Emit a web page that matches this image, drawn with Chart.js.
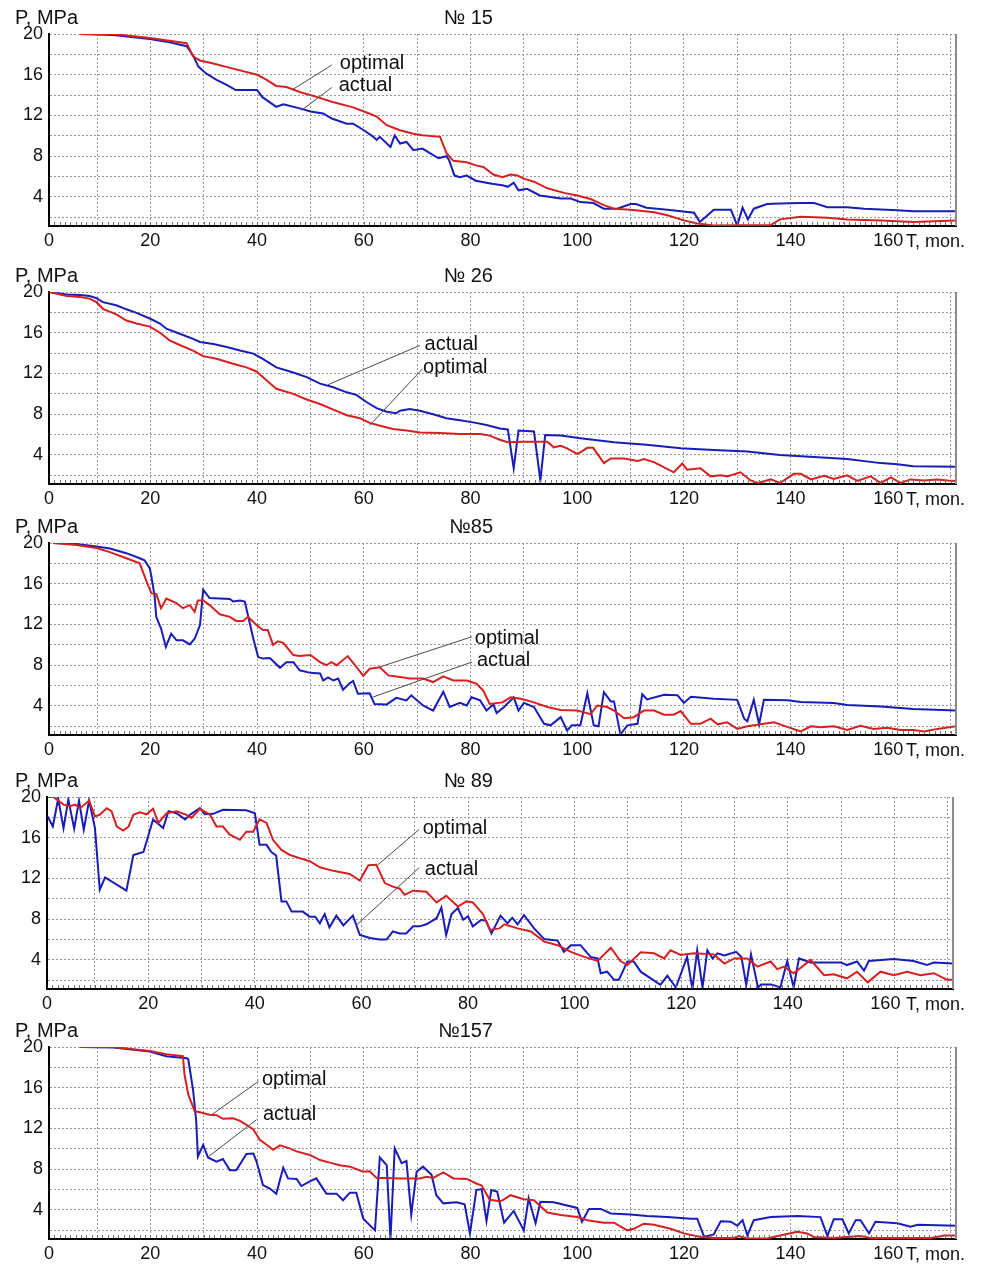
<!DOCTYPE html>
<html>
<head>
<meta charset="utf-8">
<script src="https://cdn.jsdelivr.net/npm/chart.js@4.4.0/dist/chart.umd.min.js"></script>
<style>
  html, body { margin: 0; padding: 0; background: #fff; width: 984px; height: 1264px; overflow: hidden;
    font-family: "Liberation Sans", Arial, sans-serif; color: #111; }
  .panel { position: absolute; left: 0; width: 984px; height: 253px; }
  .panel canvas { position: absolute; left: 0; top: 0; }
  .ylab { position: absolute; left: 15px; top: 6px; font-size: 20px; line-height: 22px; }
  .ttl  { position: absolute; right: 491px; top: 6px; font-size: 20px; line-height: 22px; }
  .tlab { position: absolute; left: 906px; top: 230px; font-size: 18px; line-height: 22px; }
</style>
</head>
<body>
<script>
// Well pressure P (MPa) vs time T (months): actual vs optimal
const FONT = '"Liberation Sans", Arial, sans-serif';
const RED  = 'rgb(214,32,32)';
const BLUE = 'rgb(26,28,184)';

// [month, MPa]
const actual15 = [[6.8,20],[13,19.9],[19.9,19.5],[23,19.25],[26.8,18.8],[28,17.9],[29,16.8],[30.5,16.1],[32.4,15.5],[34.3,15],[36,14.5],[40,14.5],[41,13.8],[43.6,12.85],[44.9,13.1],[48,12.7],[50,12.4],[52.4,12.2],[54,11.7],[56.8,11.2],[58,11.2],[60,10.55],[61.8,9.9],[62.4,9.6],[63,9.9],[65,8.9],[65.8,10.05],[66.8,9.25],[68,9.4],[69.3,8.6],[71,8.75],[72.4,8.3],[74,7.8],[75.5,8],[76,7.6],[77,6.1],[78,5.95],[79.3,6.1],[81,5.6],[84,5.3],[86,5.15],[87,5],[88.1,5.4],[89,4.65],[90.6,4.8],[93,4.15],[95,4],[96.9,3.85],[98.8,3.85],[100.6,3.5],[103,3.4],[105,2.85],[107.5,2.85],[110,3.3],[111,3.3],[113,2.95],[116.9,2.75],[121.9,2.45],[123,1.55],[125.6,2.75],[128.8,2.75],[130,1.2],[131,2.95],[132,1.8],[133.1,2.85],[135.6,3.3],[138,3.35],[141.9,3.4],[144.4,3.4],[146.9,3],[150.6,3],[153.8,2.85],[160,2.7],[163,2.6],[171,2.6]];
const optimal15 = [[6.8,20],[13,20],[19.9,19.6],[26.8,19.1],[28,17.8],[29.3,17.4],[31.8,17.1],[35.5,16.6],[40,16],[41.8,15.5],[43.6,14.9],[45.5,14.8],[48,14.3],[51,13.85],[54,13.35],[58,12.8],[61,12.2],[62.4,11.9],[64.3,11.05],[66.8,10.55],[69.3,10.2],[71,10.05],[74.3,9.9],[75.5,8.3],[76.8,7.55],[79.3,7.4],[81,7.1],[82.4,6.95],[84.3,6.2],[86,5.95],[87.5,6.2],[88.8,6.1],[90,5.8],[91.9,5.5],[94.4,4.85],[97.5,4.4],[100,4.15],[102.5,3.8],[105,3.2],[106.9,2.85],[110,2.75],[114.4,2.5],[116.9,2.2],[120,1.7],[122.5,1.4],[125.6,1.2],[136.3,1.25],[138,1.8],[141.9,2.05],[146.9,1.95],[150.6,1.8],[156.9,1.7],[163,1.55],[171,1.7]];

const actual26 = [[1,20],[4.3,19.75],[6.8,19.7],[8.6,19.6],[9.9,19.4],[11.1,19],[13.6,18.7],[15.5,18.3],[17.4,17.95],[19.9,17.4],[21.8,16.9],[23,16.4],[25.5,15.9],[28,15.4],[29.3,15.1],[31.8,14.9],[34.3,14.6],[36.8,14.25],[39.3,13.95],[41,13.45],[43.6,12.6],[46.8,12.1],[49.3,11.65],[51.8,11],[54.3,10.65],[56.8,10.15],[58.6,9.9],[60.5,9.2],[62.4,8.6],[64.3,8.25],[66.1,8.1],[66.8,8.35],[68.6,8.5],[70.5,8.35],[73,8],[75.5,7.6],[78,7.4],[80.5,7.2],[83,6.95],[85.5,6.6],[87,6.5],[88.1,2.7],[89,6.4],[91.9,6.3],[93.1,1.5],[94,5.95],[96.9,5.9],[100.6,5.65],[106.9,5.25],[113,5],[119.4,4.65],[125.6,4.5],[131.9,4.35],[138,4],[144.4,3.8],[150.6,3.6],[156.9,3.2],[160,3.1],[163,2.9],[171,2.85]];
const optimal26 = [[1,20],[4.3,19.6],[6.8,19.5],[8.6,19.35],[9.9,19],[11.1,18.35],[13.6,17.8],[15.5,17.2],[17.4,16.9],[19.9,16.6],[21.8,16],[23.6,15.25],[25.5,14.8],[28,14.25],[29.9,13.7],[32.4,13.45],[35.5,12.95],[38,12.6],[39.9,12.2],[41.8,11.3],[43.6,10.5],[46.8,10],[49.3,9.45],[51.8,9],[54.3,8.45],[56.8,7.9],[59.3,7.6],[61.1,7.15],[63.6,6.8],[65.5,6.55],[68,6.4],[70.5,6.2],[74.3,6.15],[78,6.05],[81.8,6.05],[83.6,5.9],[85.5,5.5],[87,5.25],[90,5.3],[94.4,5.3],[95.6,4.75],[96.9,4.9],[98.1,4.65],[100,4.1],[100.6,4.25],[101.9,4.7],[103,4.7],[105,3.2],[106.3,3.65],[108.8,3.65],[111.3,3.4],[112.5,3.6],[114.4,3.3],[118.1,2.3],[119.7,3.15],[120.6,2.55],[123.1,2.7],[125,1.9],[126.9,2],[128.1,1.9],[130.6,2.3],[132.5,1.5],[133.8,1.25],[136.3,1.6],[138,1.25],[140.6,2.15],[141.9,2.15],[143.8,1.6],[146.3,1.95],[148.1,1.65],[150.6,2],[152.5,1.45],[155,1.9],[156.9,1.25],[158.8,1.8],[160.6,1.25],[162.5,1.6],[165,1.5],[167.5,1.6],[169.4,1.5],[171,1.45]];

const actual85 = [[1.8,20],[6.1,19.9],[9.9,19.65],[12.4,19.45],[15.5,19],[18,18.5],[18.9,18.3],[19.9,17.5],[20.2,16.7],[20.8,14.75],[21.1,12.75],[22,11.6],[22.9,9.8],[23.9,11.1],[24.9,10.45],[26.1,10.45],[27.4,10.05],[28.3,10.6],[29.3,11.95],[29.9,15.4],[31.1,14.6],[34.9,14.5],[35.5,14.25],[36.8,14.35],[37.7,14.25],[39.3,10.6],[40.2,8.8],[41.1,8.65],[42.4,8.7],[44.3,7.75],[45.5,8.3],[46.8,8.3],[48,7.5],[50,7.25],[51.8,7.2],[52.4,6.5],[53.3,6.8],[54.3,6.5],[55.2,6.7],[56.1,5.6],[57.4,6.25],[58,6.45],[58.9,5.2],[61.1,5.25],[62,4.2],[64.3,4.15],[66.1,4.8],[68,4.55],[68.9,5.05],[71.1,4.05],[73,3.55],[74.9,5.4],[76.1,3.9],[78,4.3],[79.3,4.05],[80.2,4.85],[81.8,4.55],[83,3.55],[84.3,4.15],[84.9,3.3],[86.3,3.9],[88.1,4.85],[89,3.55],[90,4.3],[91.9,3.9],[93.8,2.25],[95,2.1],[96.9,2.9],[98.1,1.6],[99,2.1],[100.6,2.1],[101.9,5.25],[103.1,2.1],[104,2],[105,5.35],[106.3,4.45],[106.9,4.45],[108.1,1.2],[109.4,2.1],[111.3,2.25],[112.2,5.15],[113.1,4.65],[116.3,5.1],[118.8,5.05],[120,4.3],[121.3,4.9],[125.6,4.7],[130,4.6],[131.3,2.75],[131.9,2.5],[133.1,4.6],[134.1,2.2],[135,4.6],[139.4,4.55],[141.9,4.4],[148.1,4.3],[150.6,4.1],[156.9,3.95],[163,3.7],[171,3.55]];
const optimal85 = [[1.8,20],[6.1,19.8],[9.9,19.5],[12.4,19.1],[15.5,18.5],[18,18],[19.3,16.2],[20.2,15.05],[21.1,15],[22,13.6],[23,14.55],[24.9,14.1],[26.1,13.6],[27.4,13.9],[28.3,13.25],[28.9,14.35],[29.9,14.35],[31.1,13.9],[33,13],[34.9,12.75],[36.1,12.35],[37.4,12.35],[38.3,12.75],[39.9,11.95],[41.1,11.45],[42,11.45],[43,10],[43.9,10.35],[44.9,10.2],[46.8,9],[48,8.9],[50,9],[51.8,8.3],[53,8],[53.9,8.3],[54.9,8],[57,8.9],[58.6,7.85],[59.9,6.95],[61.1,7.65],[63,7.8],[64.6,7],[66.8,6.85],[68.6,6.7],[71.1,6.7],[73,6.35],[74.9,6.9],[76.8,6.5],[79.3,6.5],[81.1,6.2],[82.4,5.5],[83.6,4.2],[86,4.35],[87.5,4.85],[89.4,4.7],[91.3,4.45],[94.4,3.9],[96.9,3.6],[100,3.55],[102.5,3.2],[103.8,4.05],[105.6,3.9],[106.9,3.55],[108.8,2.8],[110.6,2.9],[112.5,3.55],[114.4,3.55],[116.3,3.15],[118.1,3.15],[119.4,3.5],[121.3,2.25],[123.1,2.25],[125,2.75],[126.3,2.2],[128.1,2.4],[130,1.75],[131.9,2],[135,2.25],[136.9,2.4],[138.8,2.05],[141.9,1.5],[143.8,2],[145.6,1.9],[148.1,2],[150.6,1.65],[153.1,2.05],[155.6,1.75],[158.1,1.85],[160.6,1.65],[163,1.65],[165,1.5],[167.5,1.75],[171,2]];

const actual89 = [[1.1,18.1],[2.1,17.1],[3.1,19.85],[4.1,16.95],[5,19.75],[6.1,16.9],[7,19.65],[7.9,16.8],[8.9,19.65],[10,16.95],[10.9,10.9],[11.9,12.1],[15.9,10.8],[17.2,14.3],[19.1,14.6],[20.9,17.8],[22.8,16.95],[23.8,18.6],[25.3,18.4],[26.9,17.8],[27.8,18.25],[29.7,18.9],[30.6,18.3],[32.2,18.35],[34,18.75],[38.4,18.7],[40,18.4],[40.9,15.3],[42.2,15.3],[43.1,14.6],[44,14.25],[45,9.75],[45.9,9.75],[46.9,8.75],[49,8.75],[50.3,8.25],[51.3,8.25],[52.2,7.6],[53.1,8.5],[54,7.2],[55.3,8.35],[56.6,7.4],[58.4,8.35],[59.7,6.45],[61.6,6.15],[63.4,6],[64.7,6],[65.9,6.8],[67.2,6.6],[68.4,6.6],[69.7,7.3],[70.9,7.3],[72.2,7.5],[74.1,8.1],[75,9.15],[75.9,6.45],[76.9,8.5],[78.1,9.1],[79.1,7.95],[80,8.3],[80.9,7.3],[82.5,7.95],[83.4,7.85],[84.4,6.6],[86.1,8.35],[87.4,7.6],[88.3,8.15],[89.3,7.5],[90.5,8.4],[92.4,7.1],[94.3,6.05],[96.8,5.9],[98,4.8],[99.3,5.45],[101.1,5.45],[103,4.3],[104.3,4.15],[104.9,2.7],[106.1,2.85],[107.4,2.05],[108.3,2.05],[109.9,3.85],[111.1,3.85],[112.4,2.85],[116.1,1.55],[117.4,2.45],[119,1.3],[121.1,4.3],[122.1,1.15],[123,4.95],[124,1.3],[124.9,4.95],[125.9,4.15],[126.8,4.65],[128.1,4.45],[130.3,4.8],[131.3,4.3],[132.2,1.55],[133.1,4.55],[134.4,1.3],[135,1.6],[136.9,1.6],[138.6,1.3],[139.9,3.9],[141.1,1.3],[142.1,4.15],[144.3,3.75],[150,3.75],[151.1,3.5],[153,3.85],[154.3,2.95],[155.2,3.9],[159.9,4.1],[163.6,3.9],[166.1,3.5],[167.4,3.75],[171,3.65]];
const optimal89 = [[1.1,20],[2.2,20],[4.1,19.25],[5.3,19.1],[6.3,19.25],[7.2,18.9],[8.9,19.65],[10,18.1],[10.9,18.25],[12.2,18.9],[13.1,18.6],[14.1,17.1],[15.3,16.7],[16.3,17.1],[17.2,18.25],[18.4,18.5],[19.7,18.3],[20.9,18.85],[21.9,17.45],[23.4,18.4],[25.3,18.6],[27.2,18.25],[28.1,17.95],[29.7,18.85],[31.6,18.25],[32.8,17.1],[34,17.1],[35.3,16.3],[37.2,15.8],[38.4,16.6],[39.7,16.6],[40.9,17.8],[42.2,17.45],[43.4,15.8],[45,14.8],[46.6,14.3],[48.4,14],[50.3,13.7],[52.2,13.1],[54.7,12.75],[57.8,12.45],[59.7,11.8],[61.3,13.3],[62.8,13.35],[64.4,11.55],[65.9,11.2],[67.2,11],[68.1,10.4],[69.7,10.8],[72.2,10.7],[74.1,9.65],[75.9,10.3],[78.1,9.25],[79.7,9.75],[80.9,9.65],[82.8,8.5],[84.1,6.95],[85.9,7.1],[86.8,7.5],[89.3,7.1],[91.8,6.8],[94.3,5.8],[96.8,5.45],[99.3,4.8],[101.8,4.3],[104.3,3.9],[106.8,5.2],[108.6,3.9],[109.9,3.5],[112.4,4.75],[114.9,4.65],[116.8,4.15],[118,4.95],[119.9,4.5],[122.4,4.65],[126.1,4.55],[128.1,3.65],[130,4.15],[132.4,4.15],[134.3,3.35],[136.8,3.85],[138,3.1],[139.3,3.35],[141.1,2.7],[144.3,4],[146.8,2.5],[148.6,2.6],[151.1,2.2],[153,2.85],[155,1.8],[157.4,2.85],[159.9,2.5],[162.4,2.85],[164.9,2.5],[167.4,2.7],[169.9,2.05],[171,2.05]];

const actual157 = [[6.8,20],[13,19.95],[19.9,19.55],[23,19.1],[26.8,18.9],[27.1,18.8],[28,15.8],[28.6,12.7],[28.9,9.25],[29.9,10.4],[30.8,9.15],[32.4,8.75],[33.6,9],[34.9,7.9],[36.1,7.9],[38,9.5],[39.3,9.55],[39.9,8.75],[41.1,6.45],[42.4,6.1],[43.6,5.6],[44.9,8.15],[45.8,7.1],[47.4,7.05],[48.3,6.35],[49.9,6.8],[51.1,7.1],[53,5.6],[54.9,5.6],[56.1,4.95],[57.4,5.7],[58.6,5.7],[59.9,3.15],[62.1,2],[63,9.15],[64.3,8.4],[65,1.1],[65.8,10.05],[67.1,8.6],[68,8.8],[68.9,3.55],[69.9,7.75],[71.1,8.25],[72.7,7.45],[73.6,5.45],[74.9,4.65],[77.4,4.75],[78.9,4.55],[79.9,1.7],[81.1,5.95],[82.1,6.05],[83,2.9],[83.9,5.95],[85,5.8],[86.3,2.75],[88.1,3.9],[90,2],[90.9,5.15],[92.2,2.7],[93.1,4.8],[95.6,4.75],[100,4.2],[100.9,2.85],[102.2,4.1],[104.4,4.1],[106.3,3.65],[110,3.55],[113.1,3.4],[116.9,3.3],[121.3,3.15],[122.5,3.15],[123.8,1.35],[125.6,1.6],[126.9,2.9],[128.8,2.85],[130,2.45],[131,3],[131.9,1.5],[133.1,3],[136.3,3.3],[141.3,3.4],[145.6,3.3],[146.9,1.45],[148.1,3.1],[149.7,3.1],[150.9,1.7],[152.2,3],[153.1,3],[154.7,1.7],[155.9,2.85],[160,2.7],[162.5,2.35],[163.8,2.55],[171,2.45]];
const optimal157 = [[6.8,20],[13,20],[19.9,19.6],[23,19.3],[26.1,19.1],[26.4,17.3],[27.1,15.35],[28.3,13.7],[29.3,13.6],[31.1,13.35],[32.4,13.3],[33.6,12.95],[35.5,13],[36.8,12.75],[38,12.35],[39.3,11.9],[40.5,10.9],[41.8,10.4],[43,9.9],[44.3,10.35],[46.1,10.05],[47.4,9.75],[49.9,9.4],[51.8,8.9],[53.6,8.65],[55.5,8.4],[57.4,8.25],[59.9,7.75],[61.1,7.8],[62.4,7.15],[64.3,7.15],[66.8,7.1],[70.5,7.1],[71.8,7.25],[73,7.15],[74.9,7.7],[76.8,7.1],[79.3,7.05],[81.1,6.6],[82.1,6.4],[83.6,5],[85.5,4.85],[86,4.95],[87.5,5.45],[90,5.05],[91.9,4.95],[94.4,3.75],[96.9,3.5],[100,3.3],[101.9,3],[105,2.75],[106.9,2.75],[109.4,2],[110.6,2.15],[112.5,2.65],[114.4,2.55],[117.5,2.15],[120,1.7],[123.1,1.35],[125.6,1.25],[129.4,1.25],[130.3,1.45],[131.9,1.2],[135.6,1.2],[138,1.5],[141.3,1.85],[143.1,1.7],[144.4,1.35],[148.1,1.25],[150.6,1.35],[153.1,1.45],[155,1.25],[166.3,1.25],[168.8,1.5],[171,1.5]];

// callouts: [text, textT, textP, lineFromT, lineFromP, lineToT, lineToP]
const notes15  = [['optimal', 55.5, 17.1, 54, 16.95, 46.7, 14.56], ['actual', 55.3, 14.9, 54, 14.75, 48.3, 12.5]];
const notes26  = [['actual', 71.4, 14.8, 70.5, 14.75, 53.3, 10.9], ['optimal', 71.1, 12.6, 71, 12.45, 61.1, 6.9]];
const notes85  = [['optimal', 80.8, 10.6, 80.3, 10.8, 63, 7.83], ['actual', 81.2, 8.5, 80.3, 8.32, 61.7, 4.87]];
const notes89  = [['optimal', 71.5, 16.95, 70.8, 16.8, 63.1, 13.35], ['actual', 71.9, 12.85, 70.8, 13.05, 59.1, 7.44]];
const notes157 = [['optimal', 40.9, 16.8, 40.3, 16.65, 31.5, 13.35], ['actual', 41.1, 13.35, 39.9, 12.86, 30.9, 9.24]];

const wells = ['№ 15', '№ 26', '№85', '№ 89', '№157'];
const actualSeries  = [actual15, actual26, actual85, actual89, actual157];
const optimalSeries = [optimal15, optimal26, optimal85, optimal89, optimal157];
const noteSets      = [notes15, notes26, notes85, notes89, notes157];

const X_TICKS = [1, 10, 20, 30, 40, 50, 60, 70, 80, 90, 100, 110, 120, 130, 140, 150, 160, 170];
const Y_TICKS = [2, 4, 6, 8, 10, 12, 14, 16, 18, 20];

// plot-area placement of each panel (px)
const PLOT_TOP   = [34, 292, 543, 797, 1047];
const PLOT_LEFT  = [49, 49, 49, 47, 49];
const PLOT_RIGHT = [956, 956, 956, 953, 956];

const framePlugin = {
  id: 'frame',
  afterDatasetsDraw(chart) {
    const { ctx, chartArea: a, scales: { x, y } } = chart;
    ctx.save();
    // right frame
    ctx.strokeStyle = '#8c8c8c';
    ctx.lineWidth = 2;
    ctx.beginPath();
    ctx.moveTo(a.right, a.top);
    ctx.lineTo(a.right, a.bottom);
    ctx.stroke();
    // minor ticks along the time axis
    ctx.strokeStyle = '#707070';
    ctx.lineWidth = 1;
    ctx.beginPath();
    for (let m = 2; m < 171; m++) {
      const px = Math.round(x.getPixelForValue(m)) + 0.5;
      ctx.moveTo(px, a.bottom - 1);
      ctx.lineTo(px, a.bottom - 4);
    }
    ctx.stroke();
    // callouts
    const notes = chart.options.plugins.frame.notes;
    ctx.strokeStyle = '#4a4a4a';
    ctx.fillStyle = '#111';
    ctx.font = '20px ' + FONT;
    ctx.textBaseline = 'middle';
    ctx.textAlign = 'left';
    notes.forEach(([txt, tt, tp, t1, p1, t2, p2]) => {
      ctx.beginPath();
      ctx.moveTo(x.getPixelForValue(t1), y.getPixelForValue(p1));
      ctx.lineTo(x.getPixelForValue(t2), y.getPixelForValue(p2));
      ctx.stroke();
      ctx.fillText(txt, x.getPixelForValue(tt), y.getPixelForValue(tp));
    });
    ctx.restore();
  },
};

function toPoints(arr) { return arr.map(([t, p]) => ({ x: t, y: p })); }

function timeLabel(v) {
  if (v === 1) return '0';
  if (v === 160) return '160\u2002\u2002';   // nudged left to leave room for "T, mon."
  return (v % 20 === 0 && v < 160) ? String(v) : '';
}

wells.forEach((name, i) => {
  const wrap = document.createElement('div');
  wrap.className = 'panel';
  wrap.style.top = (PLOT_TOP[i] - 34) + 'px';
  wrap.innerHTML = '<canvas width="984" height="253"></canvas>' +
    '<div class="ylab">P, MPa</div><div class="ttl">' + name + '</div><div class="tlab">T, mon.</div>';
  document.body.appendChild(wrap);
  const canvas = wrap.querySelector('canvas');

  new Chart(canvas, {
    type: 'line',
    data: {
      datasets: [
        { label: 'optimal', data: toPoints(optimalSeries[i]), borderColor: RED, borderWidth: 2, pointRadius: 0, tension: 0 },
        { label: 'actual', data: toPoints(actualSeries[i]), borderColor: BLUE, borderWidth: 2, pointRadius: 0, tension: 0 },
      ],
    },
    options: {
      responsive: false,
      animation: false,
      devicePixelRatio: 1,
      events: [],
      layout: { padding: { top: 34, left: 0, right: 984 - PLOT_RIGHT[i], bottom: 0 } },
      plugins: {
        legend: { display: false },
        tooltip: { enabled: false },
        frame: { notes: noteSets[i] },
      },
      scales: {
        x: {
          type: 'linear',
          min: 1,
          max: 171,
          afterBuildTicks: s => { s.ticks = X_TICKS.map(v => ({ value: v })); },
          afterFit: s => { s.height = 27; },
          ticks: {
            autoSkip: false,
            maxRotation: 0,
            padding: 4,
            color: '#111',
            font: { size: 18, family: FONT },
            callback: timeLabel,
          },
          grid: {
            drawTicks: false,
            lineWidth: 1,
            color: c => (c.tick && c.tick.value % 10 === 0) ? '#9a9a9a' : 'rgba(0,0,0,0)',
          },
          border: { display: true, color: '#000', width: 2, dash: [2, 2] },
        },
        y: {
          min: 1.15,
          max: 20,
          afterBuildTicks: s => { s.ticks = Y_TICKS.map(v => ({ value: v })); },
          afterFit: s => { s.width = PLOT_LEFT[i]; },
          ticks: {
            autoSkip: false,
            padding: 6,
            color: '#111',
            font: { size: 18, family: FONT },
            callback: v => v % 4 === 0 ? String(v) : '',
          },
          grid: { drawTicks: false, lineWidth: 1, color: '#9a9a9a' },
          border: { display: true, color: '#000', width: 2, dash: [2, 2] },
        },
      },
    },
    plugins: [framePlugin],
  });
});
</script>
</body>
</html>
